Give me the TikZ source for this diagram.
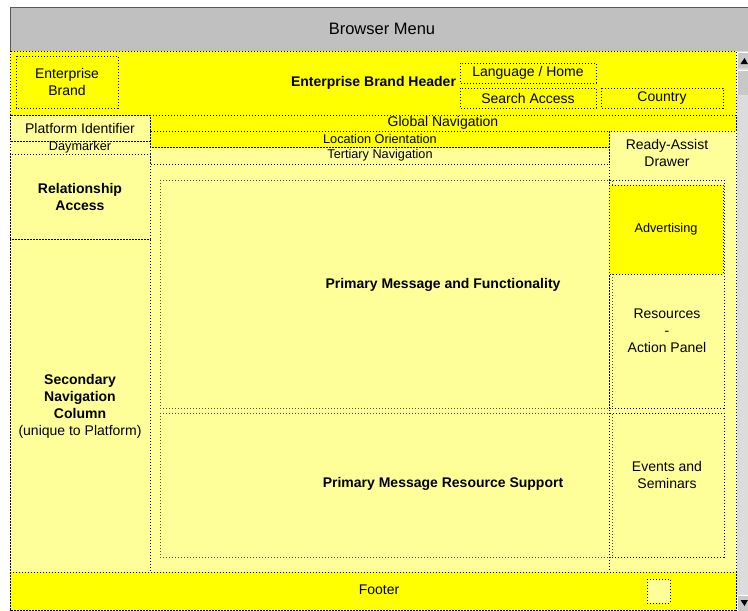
\documentclass[tikz,border=0pt]{standalone}
\usepackage{fontspec}
\setmainfont{Liberation Sans}
\definecolor{ly}{HTML}{FFFF99}
\definecolor{by}{HTML}{FFFF00}
\definecolor{mgrey}{HTML}{C0C0C0}
\definecolor{sbar}{HTML}{DCDCDC}
\definecolor{sbtn}{HTML}{C8C8C8}
\begin{document}
\begin{tikzpicture}[x=1pt,y=-1pt,
  dot/.style={draw=black, line width=1pt, dash pattern=on 1.4pt off 1.6pt},
  gdot/.style={draw=black!70, line width=1pt, dash pattern=on 1.4pt off 1.6pt},
  lbl/.style={font=\fontsize{14}{17}\selectfont, align=center, inner sep=0pt},
  blbl/.style={font=\fontsize{14}{17}\selectfont\bfseries, align=center, inner sep=0pt},
  slbl/.style={font=\fontsize{12.7}{15}\selectfont, align=center, inner sep=0pt}]
\useasboundingbox (0,0) rectangle (748,611);
% browser bar
\fill[mgrey] (10,7) rectangle (748,51);
\draw[line width=0.8pt, black!65] (748,7) -- (10,7) -- (10,51);
\node[font=\fontsize{16.5}{19}\selectfont, inner sep=0pt] (menu) at (382,29) {Browser Menu};
% content background
\fill[ly] (10,51) rectangle (736,610);
% header
\fill[by] (10,51) rectangle (736,115);
\draw[dot] (10,51) rectangle (736,115);
\draw[dot] (16,56) rectangle (118,108);
\node[lbl] (ebrand) at (67,82) {Enterprise\\Brand};
\node[blbl] (ebh) at (373.5,83) {Enterprise Brand Header};
\draw[dot] (460,63) rectangle (596,83);
\node[lbl] (lang) at (528,73) {Language / Home};
\draw[dot] (460,88) rectangle (596,108);
\node[lbl] (search) at (528,98) {Search Access};
\draw[dot] (601,88) rectangle (723,108);
\node[lbl] (country) at (662,98) {Country};
% global / location / tertiary
\fill[by] (150,115) rectangle (736,131);
\draw[dot] (150,115) rectangle (736,131);
\node[lbl] (gnav) at (443,123) {Global Navigation};
\fill[by] (150,131) rectangle (609,147);
\draw[dot] (150,131) rectangle (609,147);
\node[slbl] (loc) at (380,139) {Location Orientation};
\draw[dot] (150,147) rectangle (609,164);
\node[slbl] (tert) at (380,155.5) {Tertiary Navigation};
% left column
\draw[dot] (10,115) rectangle (150,141);
\node[lbl] (pid) at (80,128) {Platform Identifier};
\draw[dot] (10,141) rectangle (150,154);
\node[slbl] (day) at (80,147.5) {Daymarker};
\draw[dot] (10,154) rectangle (150,239);
\node[blbl] (rel) at (80,196.5) {Relationship\\Access};
\draw[dot] (10,239) rectangle (150,572);
\node[lbl] (sec) at (80,406) {\textbf{Secondary}\\\textbf{Navigation}\\\textbf{Column}\\(unique to Platform)};
% primary boxes
\draw[gdot] (160,180) rectangle (612,408);
\node[blbl] (pmf) at (443,285) {Primary Message and Functionality};
\draw[gdot] (160,413) rectangle (612,557);
\node[blbl] (pmr) at (443,484) {Primary Message Resource Support};
% right column
\draw[dot] (609,131) -- (609,572);
\node[lbl] (ready) at (667,153) {Ready-Assist\\Drawer};
\draw[dot] (609,180) rectangle (724,408);
\draw[dot] (609,413) rectangle (724,557);
\fill[by] (609,185) rectangle (723,274);
\draw[dot] (609,185) rectangle (723,274);
\node[slbl] (adv) at (666,229.5) {Advertising};
\node[lbl] (res) at (667,331) {Resources\\-\\Action Panel};
\node[lbl] (evt) at (667,475) {Events and\\Seminars};
% footer
\fill[by] (10,572) rectangle (736,610);
\draw[dot] (10,572) rectangle (736,610);
\node[lbl] (foot) at (379,590) {Footer};
\fill[ly] (647,579) rectangle (670,603);
\draw[dot] (647,579) rectangle (670,603);
% outer borders
\draw[dot] (10,51) -- (10,610) -- (736,610) -- (736,51);
% scrollbar
\fill[sbar] (737,51) rectangle (748,611);
\fill[sbtn] (737,52) rectangle (748,68);
\draw[white, line width=0.6pt] (737.5,68) -- (737.5,52.5) -- (748,52.5);
\fill[black] (740.5,64) -- (748,64) -- (744.5,58) -- cycle;
\fill[sbtn] (737,70) rectangle (748,95);
\draw[white, line width=0.6pt] (737.5,95) -- (737.5,70.5) -- (748,70.5);
\fill[sbtn] (737,595) rectangle (748,611);
\draw[white, line width=0.6pt] (737.5,611) -- (737.5,595.5) -- (748,595.5);
\fill[black] (740.5,600) -- (748,600) -- (744.5,606) -- cycle;
\end{tikzpicture}
\end{document}
